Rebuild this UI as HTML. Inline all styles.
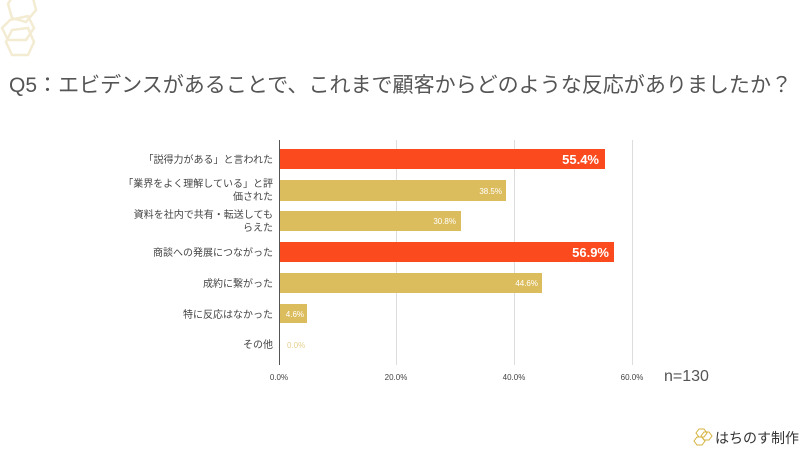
<!DOCTYPE html>
<html><head><meta charset="utf-8"><style>
body{margin:0;background:#fff;width:810px;height:454px;overflow:hidden}
svg{display:block}
text{font-family:"Liberation Sans","Noto Sans CJK JP",sans-serif}
</style></head><body>
<svg width="810" height="454" viewBox="0 0 810 454">
<g fill="none" stroke="#f3ecd2" stroke-width="2.5">
<polygon points="14,-6 32,-6 36,10 26,22 12,18 8,4"/>
<polygon points="10,20 28,16 34,28 26,40 8,40 2,28"/>
<polygon points="12,30 28,28 34,42 28,55 12,55 6,42"/>
</g>
<text x="9" y="92" font-size="21" fill="#555" textLength="783" lengthAdjust="spacingAndGlyphs">Q5：エビデンスがあることで、これまで顧客からどのような反応がありましたか？</text>
<g stroke="#ddd" stroke-width="1">
<line x1="396.5" y1="140" x2="396.5" y2="365"/>
<line x1="514.5" y1="140" x2="514.5" y2="365"/>
<line x1="632.5" y1="140" x2="632.5" y2="365"/>
</g>
<line x1="279.5" y1="140" x2="279.5" y2="365" stroke="#555" stroke-width="1"/>
<rect x="280" y="149" width="325" height="20" fill="#fa4a1e"/>
<rect x="280" y="180" width="226" height="21" fill="#dcbd5e"/>
<rect x="280" y="211" width="181" height="20" fill="#dcbd5e"/>
<rect x="280" y="242" width="334" height="20" fill="#fa4a1e"/>
<rect x="280" y="273" width="262" height="20" fill="#dcbd5e"/>
<rect x="280" y="304" width="27" height="19" fill="#dcbd5e"/>
<g font-size="13" font-weight="bold" fill="#fff" text-anchor="end">
<text x="599" y="164">55.4%</text>
<text x="609" y="257">56.9%</text>
</g>
<g font-size="8" fill="#fff" text-anchor="end">
<text x="502" y="194">38.5%</text>
<text x="456" y="224">30.8%</text>
<text x="538" y="286">44.6%</text>
<text x="304" y="317">4.6%</text>
</g>
<text x="287" y="348" font-size="8" fill="#e6d08e">0.0%</text>
<g font-size="10" fill="#444" text-anchor="end">
<text x="273" y="163">「説得力がある」と言われた</text>
<text x="273" y="187">「業界をよく理解している」と評</text>
<text x="273" y="200">価された</text>
<text x="273" y="218">資料を社内で共有・転送しても</text>
<text x="273" y="231">らえた</text>
<text x="273" y="256">商談への発展につながった</text>
<text x="273" y="287">成約に繋がった</text>
<text x="273" y="318">特に反応はなかった</text>
<text x="273" y="348">その他</text>
</g>
<g font-size="8" fill="#444" text-anchor="middle">
<text x="279" y="380">0.0%</text>
<text x="396" y="380">20.0%</text>
<text x="514" y="380">40.0%</text>
<text x="632" y="380">60.0%</text>
</g>
<text x="664" y="381" font-size="16" fill="#555">n=130</text>
<g fill="none" stroke="#d4b23c" stroke-width="1">
<polygon points="699,429 704,429 707,433 704,437 699,437 696,433"/>
<polygon points="704,432 709,432 712,436 709,440 704,440 701,436"/>
<polygon points="697,437 702,437 705,441 702,445 697,445 694,441"/>
</g>
<text x="715" y="443" font-size="14" fill="#333">はちのす制作</text>
</svg>
</body></html>
